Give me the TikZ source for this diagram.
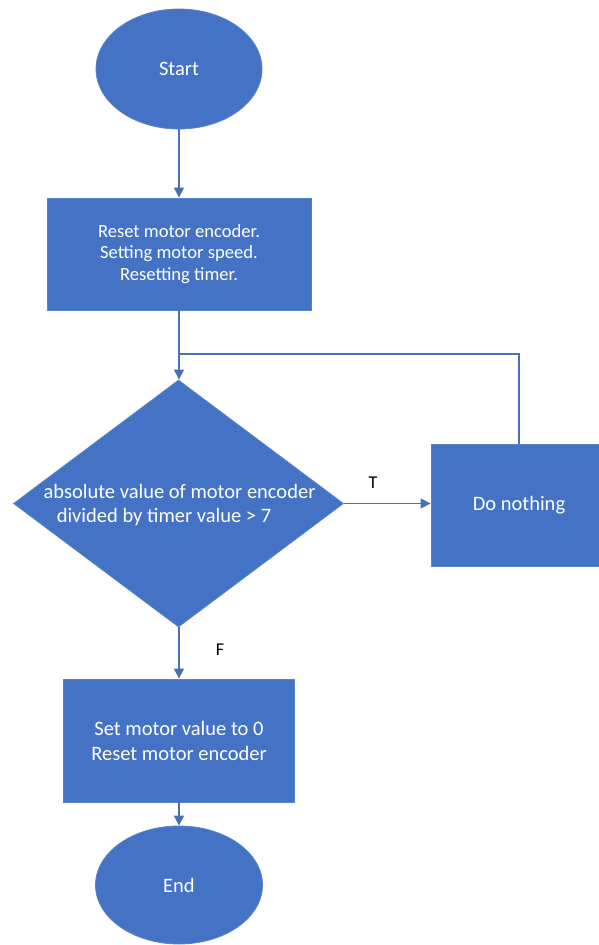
\documentclass[tikz,border=0pt]{standalone}
\usepackage{fontspec}
\setmainfont{Carlito}
\usetikzlibrary{shapes.geometric,arrows.meta}
\definecolor{boxblue}{HTML}{4472C4}
\definecolor{edgeblue}{HTML}{5A82CC}
\definecolor{linkblue}{HTML}{4A70B4}
\tikzset{
  every picture/.style={x=1pt,y=-1pt},
  shapebase/.style={fill=boxblue,draw=edgeblue,line width=0.8pt,inner sep=0pt,
    text=white,font=\fontsize{20.5}{25}\selectfont,align=center},
  terminal/.style={shapebase,ellipse},
  procbox/.style={shapebase,rectangle},
  decision/.style={shapebase,diamond},
  link/.style={draw=linkblue,line width=1.3pt},
  arrowlink/.style={link,-{Triangle[width=10pt,length=10pt]}},
  branch/.style={font=\fontsize{18}{20}\selectfont,text=black}
}
\begin{document}
\begin{tikzpicture}
\useasboundingbox (0,0) rectangle (598,945);

% shapes
\node[terminal,minimum width=166pt,minimum height=120pt] (start) at (179,69) {Start};
\node[procbox,minimum width=264pt,minimum height=112pt,
  font=\fontsize{18.6}{21.7}\selectfont] (reset) at (179,254)
  {Reset motor encoder.\\Setting motor speed.\\Resetting timer.};
\node[decision,minimum width=330pt,minimum height=247pt] (check) at (178.5,503.5) {};
\node[text=white,font=\fontsize{20.5}{24}\selectfont,align=center,inner sep=0pt]
  (checktext) at (179.5,505)
  {absolute value of motor encoder\\divided by timer value > 7\rule{31pt}{0pt}};
\node[procbox,minimum width=176pt,minimum height=122pt] (wait) at (519,505) {Do nothing};
\node[procbox,minimum width=231pt,minimum height=123pt] (stop) at (179,740.5)
  {Set motor value to 0\\Reset motor encoder};
\node[terminal,minimum width=167pt,minimum height=118pt] (end) at (179,885) {End};

% connectors
\coordinate (join) at (179,354);
\draw[arrowlink] (start.south) -- (reset.north);
\draw[arrowlink] (reset.south) -- (reset.south |- check.north);
\draw[link] (wait.north) |- (join);
\draw[arrowlink] (check.east) -- (check.east -| wait.west);
\draw[arrowlink] (check.south -| stop.north) -- (stop.north);
\draw[arrowlink] (stop.south) -- (end.north);

% branch labels
\node[branch] (tlabel) at (373,483) {T};
\node[branch] (flabel) at (220,650) {F};
\end{tikzpicture}
\end{document}
